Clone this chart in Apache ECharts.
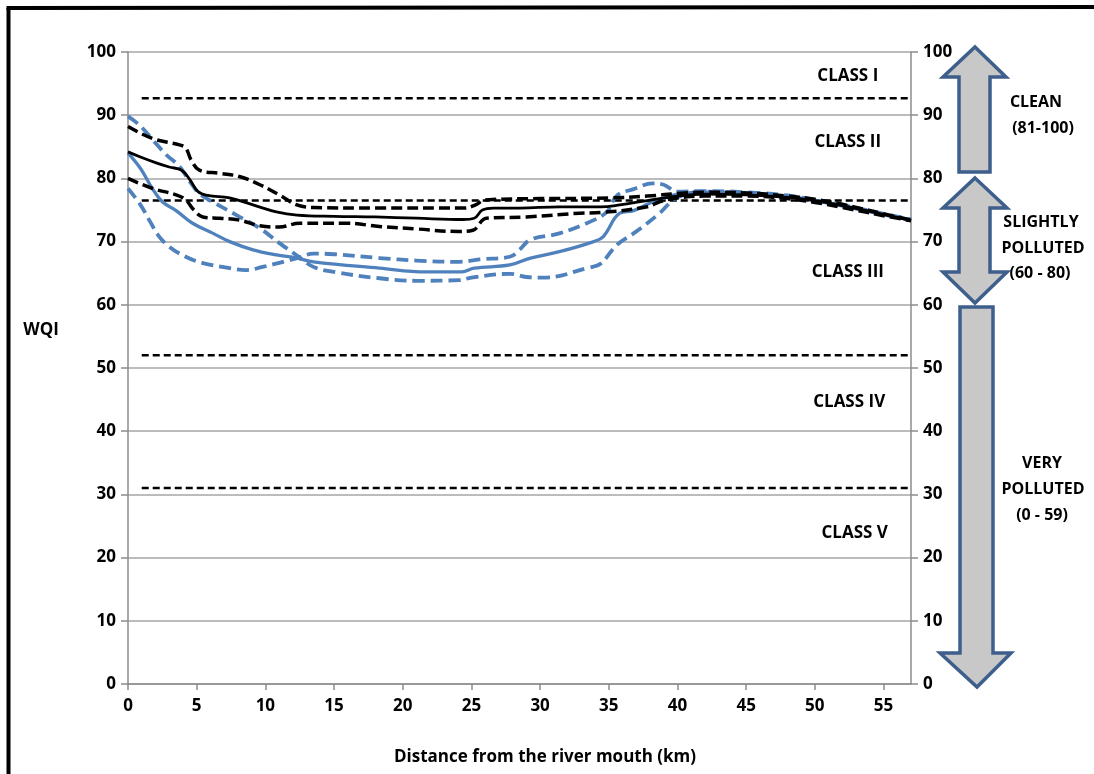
<!DOCTYPE html>
<html>
<head>
<meta charset="utf-8">
<script src="https://cdn.jsdelivr.net/npm/echarts@6/dist/echarts.min.js"></script>
<style>
  html, body { margin: 0; padding: 0; background: #fff; }
  #chart { width: 1094px; height: 774px; }
</style>
</head>
<body>
<div id="chart"></div>
<script>
// Water Quality Index along the river, distance from the mouth in km.
const yTicks = [0, 10, 20, 30, 40, 50, 60, 70, 80, 90, 100];
const xTicks = [0, 5, 10, 15, 20, 25, 30, 35, 40, 45, 50, 55];

// Black profile: solid centre line and its two dashed bounds
const blackMeanKm = [0, 1, 2, 3, 3.9, 4.5, 5.1, 5.8, 7.4, 9.1, 10.8, 12.3, 15, 18, 21, 24.4, 25.2, 25.8, 26.6, 28.5, 31.4, 34.4, 35.8, 37.8, 40, 42, 45, 48, 50, 52, 55, 57];
const blackMean = [84.2, 83.3, 82.5, 81.8, 81.3, 79.8, 77.9, 77.3, 76.9, 75.8, 74.7, 74.2, 74.0, 73.9, 73.7, 73.5, 73.7, 75.0, 75.3, 75.3, 75.5, 75.5, 75.8, 76.5, 77.2, 77.5, 77.4, 77.0, 76.5, 75.7, 74.3, 73.4];

const blackUpperKm = [0, 1.8, 3.75, 4.2, 4.6, 5.2, 6.7, 8.1, 9.6, 11.0, 12.3, 13.5, 18, 24.5, 25.3, 26, 30, 35, 37.8, 40, 42, 45, 48, 50, 52, 55, 57];
const blackUpper = [88.2, 86.3, 85.3, 84.8, 82.9, 81.3, 80.8, 80.3, 79.0, 77.4, 75.8, 75.4, 75.3, 75.3, 75.8, 76.6, 76.8, 76.9, 77.2, 77.6, 77.8, 77.7, 77.2, 76.7, 75.9, 74.4, 73.4];

const blackLowerKm = [0, 1.8, 3.5, 4.2, 4.8, 5.45, 6.7, 8.1, 9.6, 11.0, 12.5, 15.9, 18.3, 21, 24.1, 25.1, 26.1, 29, 32.9, 34.4, 37.8, 38.7, 40, 42, 45, 48, 50, 52, 55, 57];
const blackLower = [80.0, 78.4, 77.4, 76.6, 75.0, 73.9, 73.7, 73.4, 72.5, 72.3, 72.9, 72.9, 72.4, 72.0, 71.6, 71.8, 73.7, 73.9, 74.5, 74.6, 75.5, 76.3, 76.9, 77.2, 77.2, 76.8, 76.2, 75.4, 74.1, 73.3];

// Blue profile: solid centre line and two dashed lines
const blueMeanKm = [0, 0.9, 1.8, 2.5, 3.5, 4.7, 6.2, 7.4, 9.1, 10.8, 12.3, 13.5, 18.3, 21.7, 24.3, 25.2, 27.8, 29.3, 31.4, 33.9, 34.6, 35.8, 36.8, 38.0, 38.7, 40, 42, 45, 48, 50, 52, 55, 57];
const blueMean = [84.0, 81.6, 78.3, 76.3, 74.9, 72.9, 71.3, 70.0, 68.7, 67.9, 67.4, 66.8, 65.8, 65.2, 65.2, 65.8, 66.3, 67.4, 68.4, 70.0, 70.8, 74.5, 74.9, 76.1, 76.6, 77.5, 77.8, 77.6, 77.1, 76.5, 75.7, 74.3, 73.4];

const blueAKm = [0, 0.85, 1.8, 2.8, 3.75, 4.5, 5.2, 6.4, 7.9, 9.6, 11.0, 12.3, 13.5, 15, 18.3, 21, 24.1, 25, 27.8, 29, 30.2, 33.6, 34.4, 35.6, 36.8, 37.8, 38.7, 40, 42, 45, 48, 50, 52, 55, 57];
const blueA = [89.8, 88.4, 86.1, 83.7, 81.9, 79.5, 77.6, 76.0, 74.2, 72.1, 69.8, 67.8, 66.0, 65.2, 64.2, 63.8, 63.9, 64.3, 64.9, 64.4, 64.3, 65.9, 66.5, 69.5, 71.3, 72.9, 74.5, 77.0, 77.9, 77.7, 77.1, 76.5, 75.7, 74.3, 73.4];

const blueBKm = [0, 0.85, 1.6, 2.2, 3.0, 4.2, 5.45, 7.4, 8.6, 9.8, 11.3, 12.5, 13.5, 15, 18.3, 21, 24.1, 25.6, 27.8, 28.5, 29.3, 31.4, 33.9, 34.9, 35.6, 36.8, 38.2, 39, 40, 42, 45, 48, 50, 52, 55, 57];
const blueB = [78.4, 76.0, 73.2, 71.0, 69.2, 67.6, 66.6, 65.8, 65.5, 66.0, 66.8, 67.5, 68.1, 68.0, 67.4, 67.0, 66.8, 67.2, 67.6, 68.7, 70.3, 71.3, 73.4, 74.8, 77.3, 78.3, 79.2, 79.0, 77.9, 78.0, 77.8, 77.3, 76.6, 75.8, 74.4, 73.5];

// Class boundaries (dashed horizontal lines) and their extent in km
const classBounds = [92.7, 76.5, 52, 31];
const classSpan = [1, 57];
const classNames = ['CLASS I', 'CLASS II', 'CLASS III', 'CLASS IV', 'CLASS V'];
const classLabelY = [96.2, 85.8, 65.2, 44.6, 23.9];
const classLabelKm = [52.4, 52.4, 52.4, 52.5, 52.9];

const FONT = '"Open Sans", sans-serif';
const BLUE = '#4f81bd';

function pairs(xs, ys) { return xs.map((x, i) => [x, ys[i]]); }

const chart = echarts.init(document.getElementById('chart'));

const lineSeries = (name, xs, ys, color, width, type) => ({
  name, type: 'line', data: pairs(xs, ys), showSymbol: false, symbol: 'none',
  smooth: 0.4,
  lineStyle: { color, width, type, cap: 'butt', join: 'round' },
  z: 3
});

const series = [];
classBounds.forEach((v, i) => {
  series.push({
    name: 'bound' + i, type: 'line', data: [[classSpan[0], v], [classSpan[1], v]],
    showSymbol: false, symbol: 'none',
    lineStyle: { color: '#000', width: 2.5, type: [7, 4] }, z: 2
  });
});
series.push(lineSeries('blueB', blueBKm, blueB, BLUE, 3.8, [12, 6]));
series.push(lineSeries('blueA', blueAKm, blueA, BLUE, 3.8, [12, 6]));
series.push(lineSeries('blueMean', blueMeanKm, blueMean, BLUE, 3.3, 'solid'));
series.push(lineSeries('blackLower', blackLowerKm, blackLower, '#000', 3.5, [11, 5]));
series.push(lineSeries('blackUpper', blackUpperKm, blackUpper, '#000', 3.5, [11, 5]));
series.push(lineSeries('blackMean', blackMeanKm, blackMean, '#000', 2.8, 'solid'));
// class names placed in data coordinates
series.push({
  name: 'classes', type: 'scatter', symbolSize: 0, silent: true,
  itemStyle: { opacity: 1 },
  data: classNames.map((n, i) => ({ value: [classLabelKm[i], classLabelY[i]], name: n })),
  label: {
    show: true, position: 'inside', formatter: p => p.name, opacity: 1,
    fontFamily: FONT, fontWeight: 'bold', fontSize: 17, color: '#000'
  },
  z: 5
});

const axisLabel = { fontFamily: FONT, fontWeight: 'bold', fontSize: 17, color: '#000' };
const grey = '#8c8c8c';

const arrowStyle = { fill: '#c8c8c8', stroke: '#3e5f8c', lineWidth: 3.5, lineJoin: 'miter' };
const txt = (x, y, text, size) => ({
  type: 'text', x, y,
  style: { text, fontFamily: FONT, fontWeight: 'bold', fontSize: size || 16, fill: '#000', align: 'center', verticalAlign: 'middle' }
});

chart.setOption({
  animation: false,
  backgroundColor: '#fff',
  grid: { left: 128, right: 183, top: 52, bottom: 90, containLabel: false },
  xAxis: {
    type: 'value', min: 0, max: 57, interval: 5,
    axisLine: { show: true, lineStyle: { color: grey, width: 1.5 } },
    axisTick: { show: true, length: 6, lineStyle: { color: grey, width: 1.5 } },
    axisLabel: Object.assign({ margin: 14, showMaxLabel: false,
      formatter: v => (xTicks.includes(v) ? String(v) : '') }, axisLabel),
    splitLine: { show: false }
  },
  yAxis: [
    {
      type: 'value', min: 0, max: 100, interval: 10, position: 'left',
      axisLine: { show: true, lineStyle: { color: grey, width: 1.5 } },
      axisTick: { show: true, length: 7, lineStyle: { color: grey, width: 1.5 } },
      axisLabel: Object.assign({ margin: 12, formatter: v => (yTicks.includes(v) ? String(v) : '') }, axisLabel),
      splitLine: { show: true, lineStyle: { color: '#a6a6a6', width: 1.5 } }
    },
    {
      type: 'value', min: 0, max: 100, interval: 10, position: 'right',
      axisLine: { show: true, lineStyle: { color: grey, width: 1.5 } },
      axisTick: { show: true, length: 7, lineStyle: { color: grey, width: 1.5 } },
      axisLabel: Object.assign({ margin: 12, formatter: v => (yTicks.includes(v) ? String(v) : '') }, axisLabel),
      splitLine: { show: false }
    }
  ],
  series,
  graphic: [
    // frame
    { type: 'line', shape: { x1: 8.5, y1: 8, x2: 8.5, y2: 774 }, style: { stroke: '#000', lineWidth: 4 } },
    { type: 'line', shape: { x1: 6.5, y1: 8, x2: 1094, y2: 7 }, style: { stroke: '#000', lineWidth: 4 } },
    // axis titles
    txt(41, 330, 'WQI', 17),
    txt(545, 757, 'Distance from the river mouth (km)', 17),
    // quality bands on the right
    { type: 'polygon', shape: { points: [[975, 47], [1006, 77], [990, 77], [990, 172], [959, 172], [959, 77], [943, 77]] }, style: arrowStyle },
    { type: 'polygon', shape: { points: [[975, 178], [1007, 208], [990, 208], [990, 272], [1007, 272], [975, 303], [943, 272], [959, 272], [959, 208], [943, 208]] }, style: arrowStyle },
    { type: 'polygon', shape: { points: [[960, 307], [993, 307], [993, 653], [1011, 653], [977, 687], [940, 653], [960, 653]] }, style: arrowStyle },
    txt(1036, 102, 'CLEAN'),
    txt(1043, 128, '(81-100)'),
    txt(1041, 222, 'SLIGHTLY'),
    txt(1043, 248, 'POLLUTED'),
    txt(1040, 273, '(60 - 80)'),
    txt(1042, 463, 'VERY'),
    txt(1043, 489, 'POLLUTED'),
    txt(1042, 515, '(0 - 59)')
  ]
});
</script>
</body>
</html>
